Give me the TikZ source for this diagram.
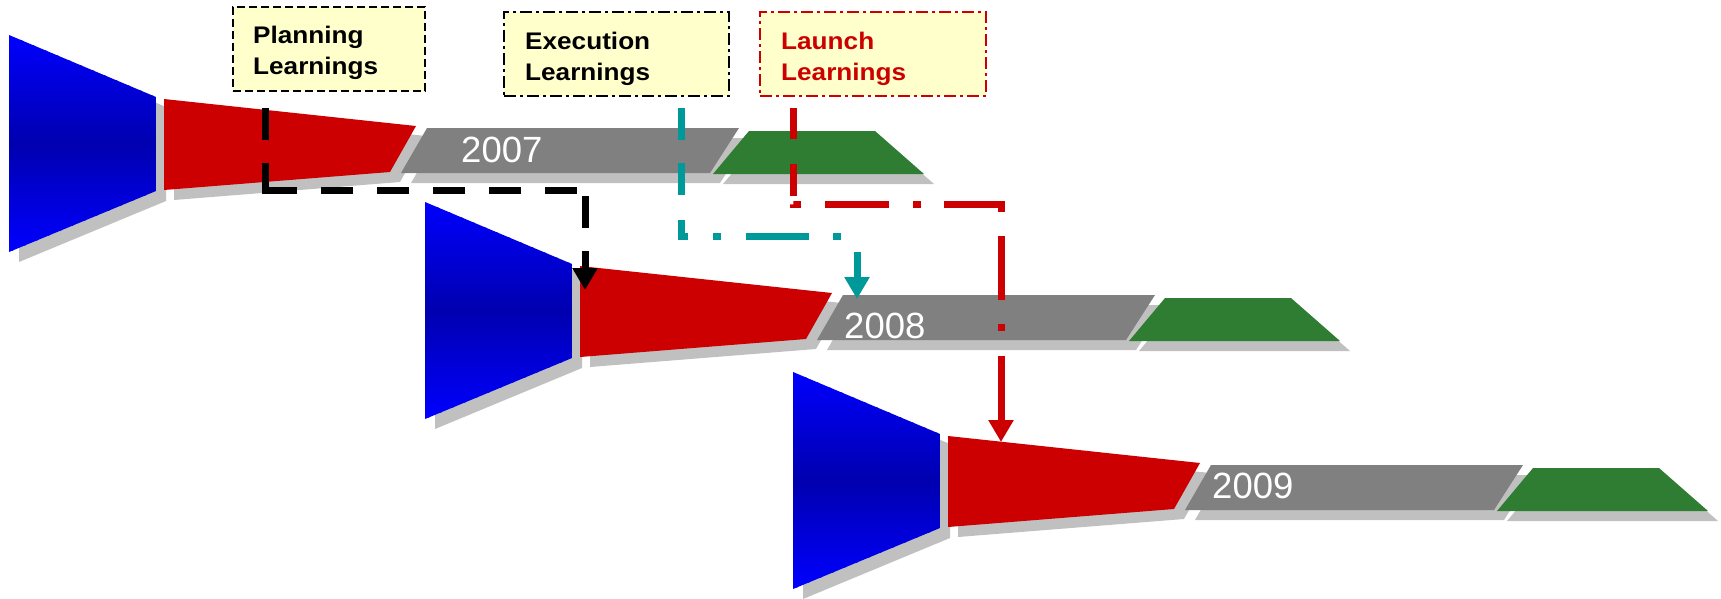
\documentclass[tikz,border=0pt]{standalone}
\usepackage{fontspec}
\setmainfont{Liberation Sans}
\newfontfamily\boxfont{Liberation Sans}[FakeStretch=1.09]
\usetikzlibrary{arrows.meta}
\definecolor{funnelblue}{RGB}{0,0,255}
\definecolor{funneldark}{RGB}{0,0,176}
\definecolor{funnelred}{RGB}{204,0,0}
\definecolor{bargray}{RGB}{128,128,128}
\definecolor{shadowgray}{RGB}{192,192,192}
\definecolor{bargreen}{RGB}{47,125,50}
\definecolor{connteal}{RGB}{0,153,153}
\definecolor{boxyellow}{RGB}{255,255,204}
\tikzset{
  pics/funnelrow/.style={code={
    \begin{scope}[shift={(10,10)}]
      \fill[shadowgray] (9,35)--(156,97)--(156,191)--(9,252)--cycle;
      \fill[shadowgray] (164,99)--(416,126)--(390,172)--(164,190)--cycle;
      \fill[shadowgray] (427,128)--(739,128)--(710,173)--(401,173)--cycle;
      \fill[shadowgray] (749,131)--(875,131)--(924,174)--(713,174)--cycle;
    \end{scope}
    \begin{scope}
      \clip (9,35)--(156,97)--(156,191)--(9,252)--cycle;
      \foreach \i in {0,...,43} {
        \pgfmathsetmacro\yy{35+5*\i}
        \pgfmathtruncatemacro\tt{100*min(1,abs((\yy+2.5-143.5)/108.5))}
        \fill[funnelblue!\tt!funneldark] (8,\yy) rectangle (157,\yy+5.8);
      }
    \end{scope}
    \fill[funnelred] (164,99)--(416,126)--(390,172)--(164,190)--cycle;
    \fill[bargray] (427,128)--(739,128)--(710,173)--(401,173)--cycle;
    \fill[bargreen] (749,131)--(875,131)--(924,174)--(713,174)--cycle;
  }},
  learnbox/.style={fill=boxyellow, line width=2.5pt, minimum height=84pt, inner sep=0pt},
  boxtext/.style={inner sep=0pt, anchor=base west, align=left,
    font=\boxfont\bfseries\fontsize{24}{31}\selectfont},
  yeartext/.style={inner sep=0pt, anchor=base west, text=white,
    font=\fontsize{36.5}{40}\selectfont},
  conn/.style={line width=7pt, -{Triangle[width=24pt,length=22pt]}},
}
\begin{document}
\begin{tikzpicture}[x=1pt,y=-1pt]
\useasboundingbox (0,0) rectangle (1721,598);

% funnel rows
\pic at (0,0) {funnelrow};
\pic at (416,167) {funnelrow};
\pic at (784,337) {funnelrow};

% year labels
\node[yeartext] (y2007) at (461,162) {2007};
\node[yeartext] (y2008) at (844,338) {2008};
\node[yeartext] (y2009) at (1212,498) {2009};

% learning boxes
\node[learnbox, draw=black, dash pattern=on 8pt off 4pt, minimum width=192pt]
  (plan) at (329,49) {};
\node[learnbox, draw=black, dash pattern=on 12pt off 4pt on 3pt off 4pt, minimum width=225pt]
  (exec) at (616.5,54) {};
\node[learnbox, draw=funnelred, dash pattern=on 12pt off 4pt on 3pt off 4pt, minimum width=226pt]
  (launch) at (873,54) {};
\node[boxtext] (plantext) at (253,74) {Planning\\Learnings};
\node[boxtext] (exectext) at (525,80) {Execution\\Learnings};
\node[boxtext, text=funnelred] (launchtext) at (781,80) {Launch\\Learnings};

% connector end points
\coordinate (planstart) at (265,108);
\coordinate (planbend) at (585,190);
\coordinate (plantip) at (585,290);
\coordinate (execstart) at (681,108);
\coordinate (execbend) at (857,236);
\coordinate (exectip) at (857,299);
\coordinate (launchstart) at (793,108);
\coordinate (launchbend) at (1001,204);
\coordinate (launchtip) at (1001,442);

% connectors
\draw[conn, black, dash pattern=on 32pt off 23pt on 59pt off 24pt on 32pt off 24pt on 32pt off 24pt on 32pt off 24pt on 32pt off 24pt on 32pt off 14pt on 32pt off 23pt on 200pt]
  (planstart) |- (planbend) -- (plantip);
\draw[conn, connteal, dash pattern=on 32pt off 23pt on 32pt off 25pt on 23pt off 25pt on 8pt off 25pt on 63pt off 24pt on 8pt off 32pt on 200pt]
  (execstart) |- (execbend) -- (exectip);
\draw[conn, funnelred, dash pattern=on 31pt off 25pt on 32pt off 8pt on 8pt off 24pt on 64pt off 24pt on 8pt off 23pt on 65pt off 24pt on 64pt off 24pt on 7pt off 25pt on 200pt]
  (launchstart) |- (launchbend) -- (launchtip);
\end{tikzpicture}
\end{document}
